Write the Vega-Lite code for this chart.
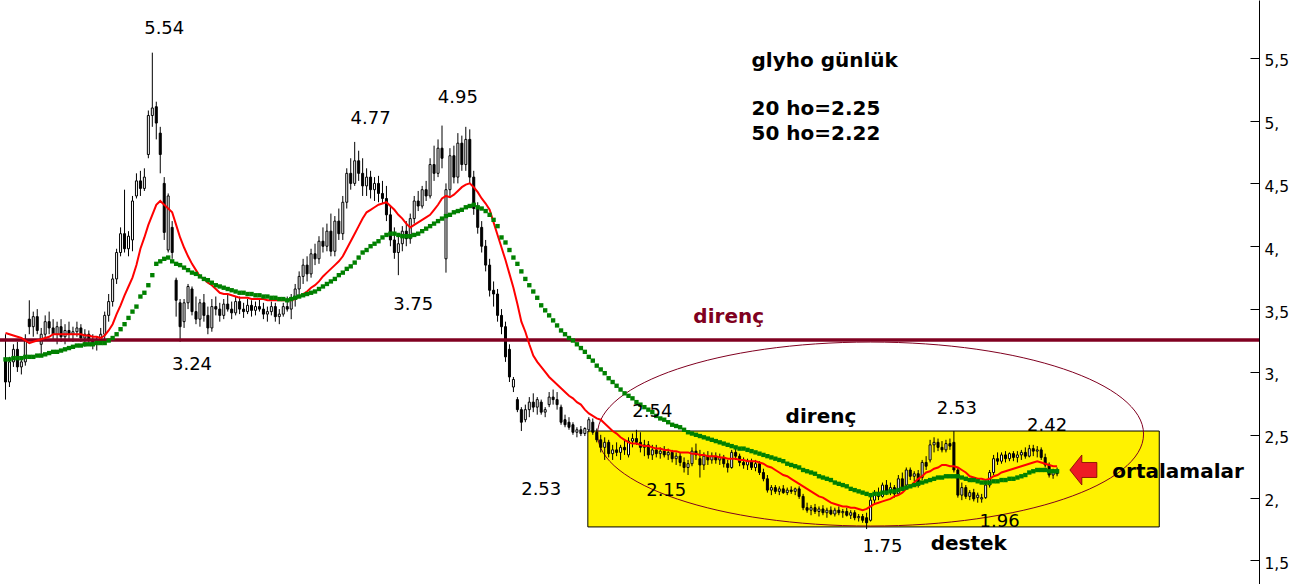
{
"$schema": "https://vega.github.io/schema/vega-lite/v6.json",
"width": 1259, "height": 584, "padding": {"left":0,"top":0,"right":53,"bottom":0}, "autosize": {"type": "none"},
"background": "white",
"config": {"view": {"stroke": null}, "font": "DejaVu Sans"},
"datasets": {
"px": [
{"d":0,"o":3.10,"h":3.30,"l":2.78,"c":2.92,"m":3.31,"n":3.10},
{"d":1,"o":2.92,"h":3.12,"l":2.88,"c":3.08,"m":3.30,"n":3.10},
{"d":2,"o":3.08,"h":3.22,"l":3.04,"c":3.18,"m":3.29,"n":3.11},
{"d":3,"o":3.18,"h":3.24,"l":3.00,"c":3.04,"m":3.28,"n":3.11},
{"d":4,"o":3.04,"h":3.12,"l":2.98,"c":3.08,"m":3.27,"n":3.11},
{"d":5,"o":3.08,"h":3.30,"l":3.05,"c":3.26,"m":3.25,"n":3.12},
{"d":6,"o":3.42,"h":3.57,"l":3.30,"c":3.36,"m":3.23,"n":3.12},
{"d":7,"o":3.36,"h":3.48,"l":3.28,"c":3.44,"m":3.24,"n":3.12},
{"d":8,"o":3.44,"h":3.50,"l":3.30,"c":3.33,"m":3.25,"n":3.13},
{"d":9,"o":3.22,"h":3.35,"l":3.12,"c":3.30,"m":3.26,"n":3.13},
{"d":10,"o":3.30,"h":3.45,"l":3.25,"c":3.40,"m":3.27,"n":3.14},
{"d":11,"o":3.40,"h":3.48,"l":3.30,"c":3.35,"m":3.28,"n":3.15},
{"d":12,"o":3.35,"h":3.42,"l":3.26,"c":3.30,"m":3.30,"n":3.16},
{"d":13,"o":3.30,"h":3.40,"l":3.22,"c":3.36,"m":3.30,"n":3.16},
{"d":14,"o":3.36,"h":3.42,"l":3.24,"c":3.28,"m":3.30,"n":3.17},
{"d":15,"o":3.28,"h":3.38,"l":3.22,"c":3.33,"m":3.30,"n":3.18},
{"d":16,"o":3.33,"h":3.40,"l":3.26,"c":3.30,"m":3.30,"n":3.19},
{"d":17,"o":3.30,"h":3.36,"l":3.24,"c":3.32,"m":3.30,"n":3.20},
{"d":18,"o":3.32,"h":3.40,"l":3.28,"c":3.35,"m":3.30,"n":3.21},
{"d":19,"o":3.35,"h":3.38,"l":3.24,"c":3.27,"m":3.30,"n":3.21},
{"d":20,"o":3.27,"h":3.34,"l":3.20,"c":3.30,"m":3.29,"n":3.22},
{"d":21,"o":3.30,"h":3.33,"l":3.22,"c":3.25,"m":3.29,"n":3.22},
{"d":22,"o":3.25,"h":3.30,"l":3.18,"c":3.22,"m":3.28,"n":3.22},
{"d":23,"o":3.22,"h":3.28,"l":3.17,"c":3.25,"m":3.28,"n":3.23},
{"d":24,"o":3.25,"h":3.35,"l":3.22,"c":3.30,"m":3.27,"n":3.23},
{"d":25,"o":3.30,"h":3.48,"l":3.26,"c":3.45,"m":3.29,"n":3.23},
{"d":26,"o":3.45,"h":3.62,"l":3.40,"c":3.56,"m":3.33,"n":3.25},
{"d":27,"o":3.56,"h":3.78,"l":3.52,"c":3.74,"m":3.38,"n":3.27},
{"d":28,"o":3.74,"h":3.98,"l":3.70,"c":3.95,"m":3.46,"n":3.30},
{"d":29,"o":3.95,"h":4.15,"l":3.92,"c":4.10,"m":3.53,"n":3.34},
{"d":30,"o":4.10,"h":4.45,"l":3.95,"c":3.98,"m":3.61,"n":3.38},
{"d":31,"o":3.98,"h":4.12,"l":3.92,"c":4.08,"m":3.68,"n":3.43},
{"d":32,"o":4.05,"h":4.40,"l":3.96,"c":4.36,"m":3.75,"n":3.48},
{"d":33,"o":4.40,"h":4.58,"l":4.38,"c":4.52,"m":3.85,"n":3.52},
{"d":34,"o":4.52,"h":4.60,"l":4.40,"c":4.46,"m":3.98,"n":3.60},
{"d":35,"o":4.46,"h":4.62,"l":4.44,"c":4.55,"m":4.07,"n":3.63},
{"d":36,"o":4.73,"h":5.08,"l":4.70,"c":5.04,"m":4.17,"n":3.69},
{"d":37,"o":5.04,"h":5.54,"l":4.95,"c":5.10,"m":4.25,"n":3.77},
{"d":38,"o":5.11,"h":5.15,"l":4.85,"c":4.98,"m":4.33,"n":3.86},
{"d":39,"o":4.90,"h":4.95,"l":4.58,"c":4.73,"m":4.36,"n":3.88},
{"d":40,"o":4.50,"h":4.55,"l":4.05,"c":4.11,"m":4.33,"n":3.90},
{"d":41,"o":3.97,"h":4.42,"l":3.95,"c":4.40,"m":4.30,"n":3.91},
{"d":42,"o":4.15,"h":4.20,"l":3.90,"c":3.95,"m":4.27,"n":3.88},
{"d":43,"o":3.73,"h":3.75,"l":3.44,"c":3.57,"m":4.17,"n":3.86},
{"d":44,"o":3.55,"h":3.58,"l":3.24,"c":3.36,"m":4.07,"n":3.85},
{"d":45,"o":3.40,"h":3.58,"l":3.35,"c":3.55,"m":3.99,"n":3.83},
{"d":46,"o":3.55,"h":3.70,"l":3.50,"c":3.68,"m":3.92,"n":3.81},
{"d":47,"o":3.66,"h":3.68,"l":3.45,"c":3.48,"m":3.86,"n":3.79},
{"d":48,"o":3.48,"h":3.60,"l":3.38,"c":3.42,"m":3.81,"n":3.78},
{"d":49,"o":3.42,"h":3.58,"l":3.36,"c":3.55,"m":3.76,"n":3.76},
{"d":50,"o":3.55,"h":3.62,"l":3.40,"c":3.45,"m":3.74,"n":3.74},
{"d":51,"o":3.45,"h":3.52,"l":3.30,"c":3.35,"m":3.71,"n":3.73},
{"d":52,"o":3.35,"h":3.58,"l":3.32,"c":3.52,"m":3.69,"n":3.71},
{"d":53,"o":3.52,"h":3.60,"l":3.45,"c":3.50,"m":3.66,"n":3.69},
{"d":54,"o":3.50,"h":3.55,"l":3.40,"c":3.45,"m":3.63,"n":3.68},
{"d":55,"o":3.45,"h":3.58,"l":3.42,"c":3.54,"m":3.62,"n":3.67},
{"d":56,"o":3.54,"h":3.62,"l":3.48,"c":3.50,"m":3.62,"n":3.66},
{"d":57,"o":3.50,"h":3.56,"l":3.42,"c":3.47,"m":3.61,"n":3.65},
{"d":58,"o":3.47,"h":3.60,"l":3.45,"c":3.56,"m":3.60,"n":3.64},
{"d":59,"o":3.56,"h":3.60,"l":3.46,"c":3.50,"m":3.59,"n":3.63},
{"d":60,"o":3.50,"h":3.55,"l":3.43,"c":3.48,"m":3.59,"n":3.63},
{"d":61,"o":3.48,"h":3.58,"l":3.46,"c":3.53,"m":3.59,"n":3.62},
{"d":62,"o":3.53,"h":3.57,"l":3.44,"c":3.49,"m":3.58,"n":3.62},
{"d":63,"o":3.49,"h":3.56,"l":3.45,"c":3.52,"m":3.58,"n":3.61},
{"d":64,"o":3.52,"h":3.58,"l":3.48,"c":3.50,"m":3.58,"n":3.61},
{"d":65,"o":3.50,"h":3.55,"l":3.42,"c":3.46,"m":3.58,"n":3.60},
{"d":66,"o":3.46,"h":3.52,"l":3.40,"c":3.48,"m":3.57,"n":3.60},
{"d":67,"o":3.48,"h":3.56,"l":3.45,"c":3.52,"m":3.57,"n":3.59},
{"d":68,"o":3.52,"h":3.55,"l":3.40,"c":3.44,"m":3.57,"n":3.59},
{"d":69,"o":3.44,"h":3.50,"l":3.38,"c":3.46,"m":3.57,"n":3.58},
{"d":70,"o":3.46,"h":3.55,"l":3.44,"c":3.52,"m":3.57,"n":3.58},
{"d":71,"o":3.52,"h":3.60,"l":3.48,"c":3.50,"m":3.57,"n":3.57},
{"d":72,"o":3.50,"h":3.62,"l":3.42,"c":3.58,"m":3.57,"n":3.58},
{"d":73,"o":3.58,"h":3.70,"l":3.52,"c":3.66,"m":3.58,"n":3.59},
{"d":74,"o":3.66,"h":3.80,"l":3.60,"c":3.76,"m":3.60,"n":3.60},
{"d":75,"o":3.76,"h":3.90,"l":3.70,"c":3.85,"m":3.62,"n":3.61},
{"d":76,"o":3.85,"h":3.92,"l":3.72,"c":3.78,"m":3.64,"n":3.62},
{"d":77,"o":3.78,"h":3.98,"l":3.75,"c":3.94,"m":3.67,"n":3.63},
{"d":78,"o":3.94,"h":4.02,"l":3.85,"c":3.90,"m":3.69,"n":3.64},
{"d":79,"o":3.90,"h":4.08,"l":3.86,"c":4.04,"m":3.72,"n":3.66},
{"d":80,"o":4.04,"h":4.15,"l":3.95,"c":4.00,"m":3.76,"n":3.68},
{"d":81,"o":4.00,"h":4.18,"l":3.96,"c":4.12,"m":3.79,"n":3.70},
{"d":82,"o":4.12,"h":4.26,"l":3.92,"c":3.96,"m":3.82,"n":3.72},
{"d":83,"o":3.96,"h":4.24,"l":3.92,"c":4.20,"m":3.85,"n":3.74},
{"d":84,"o":4.20,"h":4.30,"l":4.05,"c":4.10,"m":3.88,"n":3.77},
{"d":85,"o":4.10,"h":4.40,"l":4.05,"c":4.35,"m":3.92,"n":3.79},
{"d":86,"o":4.35,"h":4.62,"l":4.30,"c":4.58,"m":3.98,"n":3.82},
{"d":87,"o":4.58,"h":4.70,"l":4.45,"c":4.50,"m":4.04,"n":3.84},
{"d":88,"o":4.50,"h":4.83,"l":4.48,"c":4.68,"m":4.10,"n":3.87},
{"d":89,"o":4.68,"h":4.76,"l":4.52,"c":4.58,"m":4.16,"n":3.91},
{"d":90,"o":4.58,"h":4.70,"l":4.40,"c":4.48,"m":4.22,"n":3.95},
{"d":91,"o":4.48,"h":4.62,"l":4.40,"c":4.55,"m":4.27,"n":3.97},
{"d":92,"o":4.55,"h":4.60,"l":4.38,"c":4.45,"m":4.29,"n":4.00},
{"d":93,"o":4.45,"h":4.55,"l":4.36,"c":4.50,"m":4.31,"n":4.02},
{"d":94,"o":4.50,"h":4.56,"l":4.35,"c":4.42,"m":4.33,"n":4.04},
{"d":95,"o":4.42,"h":4.52,"l":4.34,"c":4.38,"m":4.34,"n":4.07},
{"d":96,"o":4.38,"h":4.48,"l":4.20,"c":4.25,"m":4.35,"n":4.09},
{"d":97,"o":4.25,"h":4.32,"l":4.00,"c":4.05,"m":4.32,"n":4.10},
{"d":98,"o":4.05,"h":4.15,"l":3.90,"c":3.95,"m":4.29,"n":4.10},
{"d":99,"o":3.95,"h":4.08,"l":3.77,"c":4.02,"m":4.25,"n":4.09},
{"d":100,"o":4.02,"h":4.16,"l":3.96,"c":4.12,"m":4.22,"n":4.08},
{"d":101,"o":4.12,"h":4.20,"l":4.00,"c":4.06,"m":4.18,"n":4.08},
{"d":102,"o":4.06,"h":4.26,"l":4.02,"c":4.22,"m":4.15,"n":4.08},
{"d":103,"o":4.22,"h":4.40,"l":4.18,"c":4.36,"m":4.17,"n":4.09},
{"d":104,"o":4.36,"h":4.44,"l":4.28,"c":4.32,"m":4.19,"n":4.10},
{"d":105,"o":4.32,"h":4.48,"l":4.30,"c":4.45,"m":4.21,"n":4.12},
{"d":106,"o":4.45,"h":4.52,"l":4.36,"c":4.40,"m":4.23,"n":4.14},
{"d":107,"o":4.40,"h":4.70,"l":4.38,"c":4.65,"m":4.25,"n":4.16},
{"d":108,"o":4.65,"h":4.80,"l":4.52,"c":4.58,"m":4.29,"n":4.18},
{"d":109,"o":4.58,"h":4.85,"l":4.55,"c":4.78,"m":4.33,"n":4.20},
{"d":110,"o":4.78,"h":4.96,"l":4.62,"c":4.70,"m":4.38,"n":4.22},
{"d":111,"o":3.90,"h":4.50,"l":3.79,"c":4.45,"m":4.40,"n":4.24},
{"d":112,"o":4.45,"h":4.78,"l":4.40,"c":4.72,"m":4.39,"n":4.25},
{"d":113,"o":4.72,"h":4.80,"l":4.50,"c":4.55,"m":4.41,"n":4.27},
{"d":114,"o":4.55,"h":4.90,"l":4.50,"c":4.82,"m":4.44,"n":4.28},
{"d":115,"o":4.82,"h":4.88,"l":4.60,"c":4.65,"m":4.47,"n":4.29},
{"d":116,"o":4.65,"h":4.95,"l":4.60,"c":4.85,"m":4.49,"n":4.31},
{"d":117,"o":4.85,"h":4.93,"l":4.50,"c":4.55,"m":4.50,"n":4.32},
{"d":118,"o":4.55,"h":4.60,"l":4.25,"c":4.30,"m":4.47,"n":4.33},
{"d":119,"o":4.30,"h":4.35,"l":4.10,"c":4.15,"m":4.43,"n":4.31},
{"d":120,"o":4.15,"h":4.20,"l":3.95,"c":4.00,"m":4.38,"n":4.30},
{"d":121,"o":4.00,"h":4.05,"l":3.80,"c":3.85,"m":4.34,"n":4.28},
{"d":122,"o":3.85,"h":3.90,"l":3.60,"c":3.65,"m":4.29,"n":4.25},
{"d":123,"o":3.65,"h":3.72,"l":3.52,"c":3.62,"m":4.19,"n":4.21},
{"d":124,"o":3.62,"h":3.66,"l":3.40,"c":3.45,"m":4.09,"n":4.16},
{"d":125,"o":3.45,"h":3.50,"l":3.30,"c":3.36,"m":3.99,"n":4.07},
{"d":126,"o":3.36,"h":3.40,"l":3.08,"c":3.12,"m":3.89,"n":4.03},
{"d":127,"o":3.18,"h":3.22,"l":2.92,"c":2.96,"m":3.78,"n":3.97},
{"d":128,"o":2.88,"h":2.96,"l":2.84,"c":2.94,"m":3.67,"n":3.91},
{"d":129,"o":2.78,"h":2.80,"l":2.68,"c":2.70,"m":3.54,"n":3.86},
{"d":130,"o":2.70,"h":2.72,"l":2.53,"c":2.60,"m":3.40,"n":3.80},
{"d":131,"o":2.62,"h":2.74,"l":2.60,"c":2.70,"m":3.32,"n":3.74},
{"d":132,"o":2.70,"h":2.80,"l":2.64,"c":2.76,"m":3.22,"n":3.69},
{"d":133,"o":2.76,"h":2.83,"l":2.68,"c":2.72,"m":3.13,"n":3.64},
{"d":134,"o":2.72,"h":2.80,"l":2.66,"c":2.78,"m":3.08,"n":3.59},
{"d":135,"o":2.76,"h":2.78,"l":2.66,"c":2.68,"m":3.04,"n":3.53},
{"d":136,"o":2.68,"h":2.72,"l":2.64,"c":2.70,"m":3.00,"n":3.49},
{"d":137,"o":2.74,"h":2.84,"l":2.72,"c":2.80,"m":2.96,"n":3.45},
{"d":138,"o":2.80,"h":2.86,"l":2.74,"c":2.78,"m":2.93,"n":3.41},
{"d":139,"o":2.78,"h":2.84,"l":2.70,"c":2.74,"m":2.90,"n":3.37},
{"d":140,"o":2.72,"h":2.74,"l":2.58,"c":2.60,"m":2.87,"n":3.33},
{"d":141,"o":2.62,"h":2.66,"l":2.56,"c":2.58,"m":2.84,"n":3.30},
{"d":142,"o":2.60,"h":2.64,"l":2.54,"c":2.56,"m":2.81,"n":3.27},
{"d":143,"o":2.58,"h":2.60,"l":2.50,"c":2.52,"m":2.79,"n":3.25},
{"d":144,"o":2.52,"h":2.56,"l":2.48,"c":2.54,"m":2.76,"n":3.22},
{"d":145,"o":2.54,"h":2.57,"l":2.49,"c":2.51,"m":2.74,"n":3.19},
{"d":146,"o":2.51,"h":2.56,"l":2.49,"c":2.55,"m":2.70,"n":3.16},
{"d":147,"o":2.54,"h":2.64,"l":2.52,"c":2.62,"m":2.67,"n":3.12},
{"d":148,"o":2.60,"h":2.63,"l":2.50,"c":2.52,"m":2.65,"n":3.09},
{"d":149,"o":2.52,"h":2.55,"l":2.44,"c":2.46,"m":2.63,"n":3.05},
{"d":150,"o":2.46,"h":2.50,"l":2.36,"c":2.40,"m":2.62,"n":3.02},
{"d":151,"o":2.40,"h":2.48,"l":2.30,"c":2.44,"m":2.59,"n":2.99},
{"d":152,"o":2.44,"h":2.46,"l":2.32,"c":2.35,"m":2.56,"n":2.95},
{"d":153,"o":2.35,"h":2.42,"l":2.30,"c":2.38,"m":2.53,"n":2.92},
{"d":154,"o":2.38,"h":2.44,"l":2.33,"c":2.36,"m":2.51,"n":2.89},
{"d":155,"o":2.36,"h":2.42,"l":2.30,"c":2.40,"m":2.48,"n":2.86},
{"d":156,"o":2.40,"h":2.46,"l":2.34,"c":2.38,"m":2.46,"n":2.83},
{"d":157,"o":2.34,"h":2.48,"l":2.32,"c":2.45,"m":2.44,"n":2.81},
{"d":158,"o":2.45,"h":2.51,"l":2.40,"c":2.47,"m":2.43,"n":2.79},
{"d":159,"o":2.47,"h":2.54,"l":2.42,"c":2.44,"m":2.43,"n":2.76},
{"d":160,"o":2.44,"h":2.52,"l":2.36,"c":2.40,"m":2.42,"n":2.74},
{"d":161,"o":2.40,"h":2.46,"l":2.33,"c":2.42,"m":2.41,"n":2.72},
{"d":162,"o":2.42,"h":2.45,"l":2.31,"c":2.34,"m":2.41,"n":2.70},
{"d":163,"o":2.34,"h":2.42,"l":2.30,"c":2.38,"m":2.40,"n":2.68},
{"d":164,"o":2.38,"h":2.42,"l":2.32,"c":2.35,"m":2.39,"n":2.65},
{"d":165,"o":2.35,"h":2.40,"l":2.31,"c":2.37,"m":2.39,"n":2.63},
{"d":166,"o":2.37,"h":2.41,"l":2.32,"c":2.34,"m":2.38,"n":2.62},
{"d":167,"o":2.34,"h":2.39,"l":2.30,"c":2.36,"m":2.38,"n":2.60},
{"d":168,"o":2.36,"h":2.38,"l":2.28,"c":2.31,"m":2.37,"n":2.58},
{"d":169,"o":2.31,"h":2.36,"l":2.26,"c":2.33,"m":2.37,"n":2.57},
{"d":170,"o":2.33,"h":2.36,"l":2.25,"c":2.28,"m":2.36,"n":2.56},
{"d":171,"o":2.28,"h":2.32,"l":2.20,"c":2.24,"m":2.36,"n":2.54},
{"d":172,"o":2.24,"h":2.30,"l":2.18,"c":2.27,"m":2.36,"n":2.52},
{"d":173,"o":2.27,"h":2.40,"l":2.25,"c":2.37,"m":2.35,"n":2.51},
{"d":174,"o":2.37,"h":2.43,"l":2.30,"c":2.34,"m":2.35,"n":2.50},
{"d":175,"o":2.31,"h":2.38,"l":2.16,"c":2.26,"m":2.34,"n":2.49},
{"d":176,"o":2.26,"h":2.36,"l":2.22,"c":2.33,"m":2.34,"n":2.48},
{"d":177,"o":2.33,"h":2.37,"l":2.26,"c":2.30,"m":2.33,"n":2.47},
{"d":178,"o":2.30,"h":2.36,"l":2.27,"c":2.33,"m":2.33,"n":2.46},
{"d":179,"o":2.33,"h":2.36,"l":2.27,"c":2.30,"m":2.33,"n":2.45},
{"d":180,"o":2.30,"h":2.35,"l":2.26,"c":2.32,"m":2.32,"n":2.44},
{"d":181,"o":2.32,"h":2.34,"l":2.24,"c":2.27,"m":2.32,"n":2.43},
{"d":182,"o":2.27,"h":2.30,"l":2.20,"c":2.24,"m":2.31,"n":2.42},
{"d":183,"o":2.24,"h":2.38,"l":2.23,"c":2.36,"m":2.31,"n":2.41},
{"d":184,"o":2.36,"h":2.40,"l":2.30,"c":2.33,"m":2.31,"n":2.40},
{"d":185,"o":2.33,"h":2.35,"l":2.25,"c":2.28,"m":2.30,"n":2.39},
{"d":186,"o":2.28,"h":2.32,"l":2.23,"c":2.26,"m":2.30,"n":2.39},
{"d":187,"o":2.26,"h":2.31,"l":2.22,"c":2.29,"m":2.29,"n":2.38},
{"d":188,"o":2.29,"h":2.31,"l":2.22,"c":2.24,"m":2.29,"n":2.37},
{"d":189,"o":2.24,"h":2.30,"l":2.21,"c":2.27,"m":2.29,"n":2.36},
{"d":190,"o":2.27,"h":2.29,"l":2.18,"c":2.20,"m":2.28,"n":2.35},
{"d":191,"o":2.20,"h":2.23,"l":2.13,"c":2.15,"m":2.27,"n":2.34},
{"d":192,"o":2.15,"h":2.18,"l":2.04,"c":2.06,"m":2.25,"n":2.33},
{"d":193,"o":2.06,"h":2.10,"l":2.02,"c":2.08,"m":2.24,"n":2.32},
{"d":194,"o":2.08,"h":2.10,"l":2.03,"c":2.05,"m":2.22,"n":2.31},
{"d":195,"o":2.05,"h":2.09,"l":2.02,"c":2.07,"m":2.20,"n":2.30},
{"d":196,"o":2.07,"h":2.10,"l":2.03,"c":2.04,"m":2.18,"n":2.29},
{"d":197,"o":2.04,"h":2.08,"l":2.02,"c":2.06,"m":2.17,"n":2.27},
{"d":198,"o":2.06,"h":2.09,"l":2.03,"c":2.05,"m":2.15,"n":2.26},
{"d":199,"o":2.05,"h":2.08,"l":2.02,"c":2.07,"m":2.13,"n":2.25},
{"d":200,"o":2.07,"h":2.09,"l":1.99,"c":2.01,"m":2.11,"n":2.24},
{"d":201,"o":2.01,"h":2.03,"l":1.90,"c":1.92,"m":2.09,"n":2.22},
{"d":202,"o":1.92,"h":1.96,"l":1.88,"c":1.90,"m":2.07,"n":2.21},
{"d":203,"o":1.90,"h":1.94,"l":1.86,"c":1.92,"m":2.05,"n":2.20},
{"d":204,"o":1.92,"h":1.95,"l":1.87,"c":1.89,"m":2.03,"n":2.19},
{"d":205,"o":1.89,"h":1.93,"l":1.85,"c":1.91,"m":2.01,"n":2.17},
{"d":206,"o":1.91,"h":1.94,"l":1.86,"c":1.88,"m":2.00,"n":2.16},
{"d":207,"o":1.88,"h":1.92,"l":1.84,"c":1.90,"m":1.98,"n":2.15},
{"d":208,"o":1.90,"h":1.93,"l":1.86,"c":1.87,"m":1.96,"n":2.14},
{"d":209,"o":1.87,"h":1.92,"l":1.85,"c":1.90,"m":1.95,"n":2.12},
{"d":210,"o":1.90,"h":1.93,"l":1.86,"c":1.88,"m":1.94,"n":2.11},
{"d":211,"o":1.88,"h":1.91,"l":1.84,"c":1.89,"m":1.93,"n":2.10},
{"d":212,"o":1.89,"h":1.92,"l":1.85,"c":1.86,"m":1.93,"n":2.09},
{"d":213,"o":1.86,"h":1.90,"l":1.83,"c":1.88,"m":1.92,"n":2.07},
{"d":214,"o":1.88,"h":1.90,"l":1.82,"c":1.84,"m":1.92,"n":2.06},
{"d":215,"o":1.84,"h":1.87,"l":1.81,"c":1.85,"m":1.91,"n":2.05},
{"d":216,"o":1.85,"h":1.87,"l":1.80,"c":1.82,"m":1.90,"n":2.04},
{"d":217,"o":1.84,"h":1.88,"l":1.75,"c":1.80,"m":1.91,"n":2.03},
{"d":218,"o":1.82,"h":2.01,"l":1.81,"c":1.98,"m":1.93,"n":2.02},
{"d":219,"o":1.98,"h":2.06,"l":1.95,"c":2.04,"m":1.95,"n":2.03},
{"d":220,"o":2.04,"h":2.08,"l":1.98,"c":2.01,"m":1.96,"n":2.03},
{"d":221,"o":2.01,"h":2.12,"l":2.00,"c":2.10,"m":1.97,"n":2.04},
{"d":222,"o":2.10,"h":2.14,"l":2.02,"c":2.05,"m":1.98,"n":2.04},
{"d":223,"o":2.05,"h":2.12,"l":2.02,"c":2.08,"m":1.99,"n":2.05},
{"d":224,"o":2.08,"h":2.10,"l":2.00,"c":2.03,"m":2.01,"n":2.05},
{"d":225,"o":2.03,"h":2.18,"l":2.02,"c":2.15,"m":2.02,"n":2.06},
{"d":226,"o":2.15,"h":2.20,"l":2.06,"c":2.08,"m":2.04,"n":2.07},
{"d":227,"o":2.10,"h":2.24,"l":2.08,"c":2.22,"m":2.07,"n":2.08},
{"d":228,"o":2.22,"h":2.24,"l":2.14,"c":2.17,"m":2.09,"n":2.09},
{"d":229,"o":2.17,"h":2.21,"l":2.13,"c":2.19,"m":2.12,"n":2.10},
{"d":230,"o":2.19,"h":2.22,"l":2.08,"c":2.12,"m":2.15,"n":2.11},
{"d":231,"o":2.16,"h":2.30,"l":2.14,"c":2.28,"m":2.17,"n":2.12},
{"d":232,"o":2.28,"h":2.33,"l":2.22,"c":2.25,"m":2.20,"n":2.13},
{"d":233,"o":2.30,"h":2.46,"l":2.28,"c":2.42,"m":2.21,"n":2.14},
{"d":234,"o":2.42,"h":2.48,"l":2.36,"c":2.44,"m":2.23,"n":2.15},
{"d":235,"o":2.44,"h":2.47,"l":2.37,"c":2.40,"m":2.24,"n":2.16},
{"d":236,"o":2.40,"h":2.45,"l":2.36,"c":2.38,"m":2.26,"n":2.16},
{"d":237,"o":2.38,"h":2.46,"l":2.36,"c":2.43,"m":2.26,"n":2.17},
{"d":238,"o":2.43,"h":2.47,"l":2.38,"c":2.41,"m":2.25,"n":2.17},
{"d":239,"o":2.44,"h":2.53,"l":2.20,"c":2.22,"m":2.25,"n":2.17},
{"d":240,"o":2.22,"h":2.24,"l":2.00,"c":2.02,"m":2.24,"n":2.17},
{"d":241,"o":2.02,"h":2.12,"l":1.98,"c":2.08,"m":2.22,"n":2.16},
{"d":242,"o":2.08,"h":2.10,"l":1.99,"c":2.01,"m":2.20,"n":2.15},
{"d":243,"o":2.01,"h":2.06,"l":1.98,"c":2.04,"m":2.17,"n":2.14},
{"d":244,"o":2.04,"h":2.07,"l":1.97,"c":1.99,"m":2.16,"n":2.14},
{"d":245,"o":2.00,"h":2.04,"l":1.96,"c":2.02,"m":2.15,"n":2.13},
{"d":246,"o":1.99,"h":2.03,"l":1.96,"c":2.00,"m":2.15,"n":2.12},
{"d":247,"o":2.00,"h":2.12,"l":1.99,"c":2.10,"m":2.14,"n":2.12},
{"d":248,"o":2.10,"h":2.22,"l":2.08,"c":2.20,"m":2.15,"n":2.12},
{"d":249,"o":2.20,"h":2.34,"l":2.18,"c":2.31,"m":2.17,"n":2.13},
{"d":250,"o":2.31,"h":2.36,"l":2.26,"c":2.29,"m":2.18,"n":2.13},
{"d":251,"o":2.29,"h":2.36,"l":2.27,"c":2.34,"m":2.20,"n":2.14},
{"d":252,"o":2.34,"h":2.37,"l":2.28,"c":2.31,"m":2.21,"n":2.14},
{"d":253,"o":2.31,"h":2.36,"l":2.29,"c":2.35,"m":2.22,"n":2.15},
{"d":254,"o":2.35,"h":2.37,"l":2.29,"c":2.32,"m":2.23,"n":2.15},
{"d":255,"o":2.32,"h":2.37,"l":2.28,"c":2.34,"m":2.24,"n":2.16},
{"d":256,"o":2.34,"h":2.38,"l":2.30,"c":2.36,"m":2.25,"n":2.17},
{"d":257,"o":2.36,"h":2.40,"l":2.31,"c":2.33,"m":2.26,"n":2.18},
{"d":258,"o":2.33,"h":2.42,"l":2.32,"c":2.39,"m":2.27,"n":2.20},
{"d":259,"o":2.39,"h":2.42,"l":2.33,"c":2.37,"m":2.28,"n":2.21},
{"d":260,"o":2.37,"h":2.41,"l":2.32,"c":2.38,"m":2.29,"n":2.22},
{"d":261,"o":2.38,"h":2.40,"l":2.30,"c":2.32,"m":2.28,"n":2.22},
{"d":262,"o":2.32,"h":2.35,"l":2.24,"c":2.26,"m":2.27,"n":2.22},
{"d":263,"o":2.26,"h":2.28,"l":2.16,"c":2.18,"m":2.26,"n":2.21},
{"d":264,"o":2.18,"h":2.23,"l":2.15,"c":2.21,"m":2.25,"n":2.21},
{"d":265,"o":2.21,"h":2.24,"l":2.17,"c":2.19,"m":2.25,"n":2.21}
],
"nums": [
{"d":40,"p":5.689,"t":"5.54"},
{"d":92,"p":4.973,"t":"4.77"},
{"d":114,"p":5.140,"t":"4.95"},
{"d":102.75,"p":3.493,"t":"3.75"},
{"d":47,"p":3.016,"t":"3.24"},
{"d":135,"p":2.021,"t":"2.53"},
{"d":163,"p":2.642,"t":"2.54"},
{"d":166.5,"p":2.013,"t":"2.15"},
{"d":239.75,"p":2.666,"t":"2.53"},
{"d":262.5,"p":2.530,"t":"2.42"},
{"d":221,"p":1.568,"t":"1.75"},
{"d":250.5,"p":1.767,"t":"1.96"}
],
"bold": [
{"d":205.5,"p":2.594,"t":"direnç"},
{"d":242.75,"p":1.584,"t":"destek"},
{"d":295.5,"p":2.156,"t":"ortalamalar"}
],
"title": [
{"d":188,"p":5.426,"t":"glyho günlük"},
{"d":188,"p":5.044,"t":"20 ho=2.25"},
{"d":188,"p":4.845,"t":"50 ho=2.22"}
]
},
"layer": [
{
"data": {"values": [{"d1":146.75,"d2":290.75,"p1":2.530,"p2":1.767}]},
"mark": {"type":"rect","fill":"#FFF200","stroke":"black","strokeWidth":1},
"encoding": {
"x": {"field":"d1","type":"quantitative","scale":{"domain":[-0.125,314.625],"nice":false,"zero":false},"axis":null},
"x2": {"field":"d2"},
"y": {"field":"p1","type":"quantitative","scale":{"domain":[1.313,5.959],"nice":false,"zero":false},
 "axis":{"orient":"right","values":[1.5,1.75,2,2.25,2.5,2.75,3,3.25,3.5,3.75,4,4.25,4.5,4.75,5,5.25,5.5,5.75,6],
 "title":null,"grid":false,"domain":true,"domainColor":"black","domainWidth":1,"tickColor":"black","tickWidth":1,
 "tickSize":{"condition":{"test":"datum.value % 0.5 === 0","value":-9},"value":-5},
 "labelExpr":"datum.value % 0.5 !== 0 ? '' : (datum.value % 1 === 0 ? datum.value + ',' : replace(format(datum.value, '.1f'), '.', ','))",
 "labelFont":"DejaVu Sans","labelFontSize":15.5,"labelColor":"black","labelPadding":14,"labelOffset":3,"labelBaseline":"middle","labelAlign":"left","labelOverlap":false,"labelBound":false}},
"y2": {"field":"p2"}
}
},
{
"data": {"values": [{"d":218,"p":2.506}]},
"mark": {"type":"point","shape":"M -1 0 A 1 0.337 0 1 1 1 0 A 1 0.337 0 1 1 -1 0 Z","filled":false,"stroke":"#800020","strokeWidth":1,"size":298116,"opacity":1},
"encoding": {
"x": {"field":"d","type":"quantitative","scale":{"domain":[-0.125,314.625],"nice":false,"zero":false},"axis":null},
"y": {"field":"p","type":"quantitative","scale":{"domain":[1.313,5.959],"nice":false,"zero":false}}
}
},
{
"data": {"name":"px"},
"mark": {"type":"rule","color":"black","strokeWidth":1,"clip":true},
"encoding": {
"x": {"field":"d","type":"quantitative","scale":{"domain":[-0.125,314.625],"nice":false,"zero":false},"axis":null},
"y": {"field":"l","type":"quantitative","scale":{"domain":[1.313,5.959],"nice":false,"zero":false}},
"y2": {"field":"h"}
}
},
{
"data": {"name":"px"},
"mark": {"type":"bar","size":2,"stroke":"black","strokeWidth":1,"clip":true},
"encoding": {
"x": {"field":"d","type":"quantitative","scale":{"domain":[-0.125,314.625],"nice":false,"zero":false},"axis":null},
"y": {"field":"o","type":"quantitative","scale":{"domain":[1.313,5.959],"nice":false,"zero":false}},
"y2": {"field":"c"},
"fill": {"condition":{"test":"datum.c >= datum.o","value":"white"},"value":"black"}
}
},
{
"data": {"values": [{"p":3.255}]},
"mark": {"type":"rule","color":"#800020","strokeWidth":3.5},
"encoding": {
"y": {"field":"p","type":"quantitative","scale":{"domain":[1.313,5.959],"nice":false,"zero":false}}
}
},
{
"data": {"name":"px"},
"mark": {"type":"line","color":"#FF0000","strokeWidth":2,"clip":true},
"encoding": {
"x": {"field":"d","type":"quantitative","scale":{"domain":[-0.125,314.625],"nice":false,"zero":false},"axis":null},
"y": {"field":"m","type":"quantitative","scale":{"domain":[1.313,5.959],"nice":false,"zero":false}}
}
},
{
"data": {"name":"px"},
"mark": {"type":"point","shape":"square","filled":true,"color":"#008000","size":19,"opacity":1,"clip":true},
"encoding": {
"x": {"field":"d","type":"quantitative","scale":{"domain":[-0.125,314.625],"nice":false,"zero":false},"axis":null},
"y": {"field":"n","type":"quantitative","scale":{"domain":[1.313,5.959],"nice":false,"zero":false}}
}
},
{
"data": {"name":"nums"},
"mark": {"type":"text","font":"DejaVu Sans","fontSize":18,"color":"black","align":"center","baseline":"alphabetic"},
"encoding": {
"x": {"field":"d","type":"quantitative","scale":{"domain":[-0.125,314.625],"nice":false,"zero":false},"axis":null},
"y": {"field":"p","type":"quantitative","scale":{"domain":[1.313,5.959],"nice":false,"zero":false}},
"text": {"field":"t"}
}
},
{
"data": {"name":"bold"},
"mark": {"type":"text","font":"DejaVu Sans","fontSize":20,"fontWeight":"bold","color":"black","align":"center","baseline":"alphabetic"},
"encoding": {
"x": {"field":"d","type":"quantitative","scale":{"domain":[-0.125,314.625],"nice":false,"zero":false},"axis":null},
"y": {"field":"p","type":"quantitative","scale":{"domain":[1.313,5.959],"nice":false,"zero":false}},
"text": {"field":"t"}
}
},
{
"data": {"values": [{"d":182.25,"p":3.390,"t":"direnç"}]},
"mark": {"type":"text","font":"DejaVu Sans","fontSize":20,"fontWeight":"bold","color":"#800020","align":"center","baseline":"alphabetic"},
"encoding": {
"x": {"field":"d","type":"quantitative","scale":{"domain":[-0.125,314.625],"nice":false,"zero":false},"axis":null},
"y": {"field":"p","type":"quantitative","scale":{"domain":[1.313,5.959],"nice":false,"zero":false}},
"text": {"field":"t"}
}
},
{
"data": {"name":"title"},
"mark": {"type":"text","font":"DejaVu Sans","fontSize":20,"fontWeight":"bold","color":"black","align":"left","baseline":"alphabetic"},
"encoding": {
"x": {"field":"d","type":"quantitative","scale":{"domain":[-0.125,314.625],"nice":false,"zero":false},"axis":null},
"y": {"field":"p","type":"quantitative","scale":{"domain":[1.313,5.959],"nice":false,"zero":false}},
"text": {"field":"t"}
}
},
{
"data": {"values": [{"d":272,"p":2.220}]},
"mark": {"type":"point","shape":"M -1 0 L -0.2 -1 L -0.2 -0.5 L 0.8 -0.5 L 0.8 0.5 L -0.2 0.5 L -0.2 1 Z","filled":true,"fill":"#ED1C24","stroke":"#7A0000","strokeWidth":0.8,"size":900,"opacity":1},
"encoding": {
"x": {"field":"d","type":"quantitative","scale":{"domain":[-0.125,314.625],"nice":false,"zero":false},"axis":null},
"y": {"field":"p","type":"quantitative","scale":{"domain":[1.313,5.959],"nice":false,"zero":false}}
}
}
]
}
